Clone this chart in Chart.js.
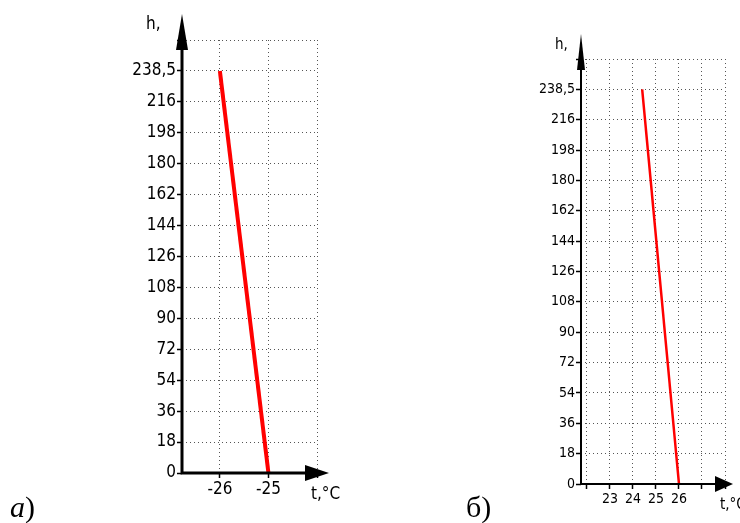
<!DOCTYPE html>
<html>
<head>
<meta charset="utf-8">
<script src="https://cdn.jsdelivr.net/npm/chart.js@4.4.1/dist/chart.umd.min.js"></script>
<style>
html, body { margin:0; padding:0; background:#fff; }
#wrap { position:relative; width:740px; height:523px; overflow:hidden; }
canvas { position:absolute; top:0; }
#cA { left:0; }
#cB { left:370px; }
.panel { position:absolute; font-family:'Liberation Serif','Times New Roman',serif; font-size:30px; line-height:30px; color:#000; }
</style>
</head>
<body>
<div id="wrap">
  <canvas id="cA" width="370" height="523"></canvas>
  <canvas id="cB" width="370" height="523"></canvas>
  <div class="panel" style="left:10px;top:492px"><i>a</i>)</div>
  <div class="panel" style="left:466px;top:492px">б)</div>
</div>
<script>
// y positions are evenly spaced, labelled like the original
const hLabels = ['0','18','36','54','72','90','108','126','144','162','180','198','216','238,5',''];

// chart a)
const tempA = [-26, -25];
const heightA = ['238,5', '0'];
const ticksA = [-26, -25, -24];
const tickLabelsA = ['-26', '-25', ''];

// chart б)
const tempB = [24.4, 26];
const heightB = ['238,5', '0'];
const ticksB = [22, 23, 24, 25, 26, 27, 28];
const tickLabelsB = ['', '23', '24', '25', '26', '', ''];

const FONT = "'Liberation Sans Narrow','DejaVu Sans Condensed','Liberation Sans',Arial,sans-serif";
Chart.defaults.font.family = FONT;
Chart.defaults.color = '#000';

// axis lines with arrowheads + axis titles
const axesArrows = {
  id: 'axesArrows',
  afterDraw(chart, args, o) {
    const ctx = chart.ctx, x = chart.scales.x, y = chart.scales.y;
    const x0 = x.left, y0 = y.bottom;
    const yTip = y.top - o.yOver, xTip = x.right + o.xOver;
    ctx.save();
    ctx.strokeStyle = '#000'; ctx.fillStyle = '#000';
    ctx.lineWidth = o.lw; ctx.lineCap = 'square';
    ctx.beginPath();
    ctx.moveTo(x0, y0); ctx.lineTo(x0, yTip + o.yHead[0]);
    ctx.moveTo(x0, y0); ctx.lineTo(xTip - o.xHead[0], y0);
    ctx.stroke();
    ctx.beginPath();
    ctx.moveTo(x0, yTip);
    ctx.lineTo(x0 - o.yHead[1], yTip + o.yHead[0]);
    ctx.lineTo(x0 + o.yHead[1], yTip + o.yHead[0]);
    ctx.closePath(); ctx.fill();
    ctx.beginPath();
    ctx.moveTo(xTip, y0);
    ctx.lineTo(xTip - o.xHead[0], y0 - o.xHead[1]);
    ctx.lineTo(xTip - o.xHead[0], y0 + o.xHead[1]);
    ctx.closePath(); ctx.fill();
    ctx.font = o.titleSize + 'px ' + FONT;
    ctx.textBaseline = 'middle';
    ctx.textAlign = 'left';
    ctx.fillText('h,', x0 + o.hPos[0], yTip + o.hPos[1]);
    ctx.fillText('t,°C', xTip + o.tPos[0], y0 + o.tPos[1]);
    ctx.restore();
  }
};

function makeChart(id, temps, heights, ticks, tickLabels, s) {
  return new Chart(document.getElementById(id), {
    type: 'line',
    data: {
      datasets: [{
        data: temps.map((t, i) => ({ x: t, y: heights[i] })),
        borderColor: '#ff0000',
        borderWidth: s.lineW,
        pointRadius: 0,
        fill: false,
        tension: 0
      }]
    },
    options: {
      responsive: false,
      animation: false,
      events: [],
      layout: { padding: s.pad },
      plugins: {
        legend: { display: false },
        tooltip: { enabled: false },
        axesArrows: s.arrows
      },
      scales: {
        x: {
          type: 'linear',
          min: s.xMin, max: s.xMax,
          afterBuildTicks: sc => { sc.ticks = ticks.map(v => ({ value: v })); },
          afterFit: sc => { sc.height = 30; },
          ticks: {
            autoSkip: false, maxRotation: 0, padding: s.tickPad,
            font: { size: s.fontSize },
            callback: v => tickLabels[ticks.indexOf(v)]
          },
          grid: { color: '#555', lineWidth: 1, tickLength: 5, tickColor: '#000', tickWidth: 1.5, tickBorderDash: [] },
          border: { display: false, dash: [1, 3] }
        },
        y: {
          type: 'category',
          labels: hLabels,
          reverse: true,
          afterFit: sc => { sc.width = s.yW; },
          ticks: { autoSkip: false, padding: 1, font: { size: s.fontSize } },
          grid: { color: '#555', lineWidth: 1, tickLength: 5, tickColor: '#000', tickWidth: 1.5, tickBorderDash: [] },
          border: { display: false, dash: [1, 3] }
        }
      }
    },
    plugins: [axesArrows]
  });
}

makeChart('cA', tempA, heightA, ticksA, tickLabelsA, {
  xMin: -26.78, xMax: -24, yW: 60, fontSize: 17, tickPad: 1, lineW: 4,
  pad: { left: 122, right: 53, top: 40, bottom: 20 },
  arrows: { lw: 3, yOver: 26, xOver: 12, yHead: [36, 6], xHead: [24, 8], titleSize: 17,
            hPos: [-36, 11], tPos: [-18, 22] }
});

makeChart('cB', tempB, heightB, ticksB, tickLabelsB, {
  xMin: 21.74, xMax: 28, yW: 56, fontSize: 14, tickPad: 2, lineW: 2.5,
  pad: { left: 155, right: 15, top: 59, bottom: 9 },
  arrows: { lw: 2, yOver: 25, xOver: 8, yHead: [36, 4], xHead: [18, 8], titleSize: 15,
            hPos: [-26, 11], tPos: [-13, 21] }
});
</script>
</body>
</html>
